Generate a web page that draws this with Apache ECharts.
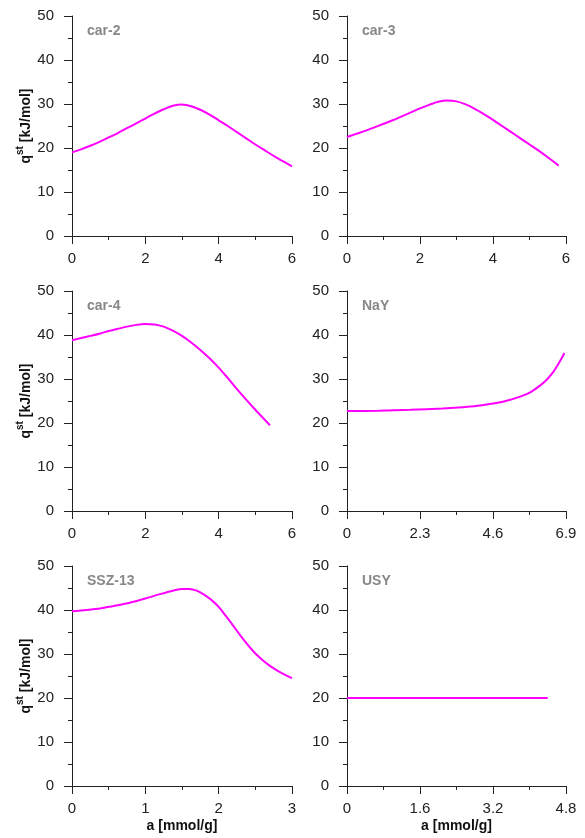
<!DOCTYPE html>
<html>
<head>
<meta charset="utf-8">
<script src="https://cdn.jsdelivr.net/npm/echarts@6/dist/echarts.min.js"></script>
<style>
html,body{margin:0;padding:0;background:#fff;}
#chart{width:585px;height:838px;}
</style>
</head>
<body>
<div id="chart"></div>
<script>
// Panel names
const panelNames = ['car-2', 'car-3', 'car-4', 'NaY', 'SSZ-13', 'USY'];
// x-axis ranges [max, interval]
const xMax = [6, 6, 6, 6.9, 3, 4.8];
const xInterval = [2, 2, 2, 2.3, 1, 1.6];
// Series data [a, qst]
const car2 = [[0,19.0],[0.25,19.7],[0.5,20.5],[0.75,21.4],[1,22.4],[1.25,23.4],[1.5,24.5],[1.75,25.6],[2,26.7],[2.25,27.8],[2.5,28.8],[2.75,29.6],[3,29.9],[3.25,29.5],[3.5,28.7],[3.75,27.6],[4,26.3],[4.25,25.0],[4.5,23.6],[4.75,22.2],[5,20.8],[5.25,19.5],[5.5,18.2],[5.75,17.0],[6,15.8]];
const car3 = [[0,22.5],[0.25,23.2],[0.5,23.9],[0.75,24.7],[1,25.5],[1.25,26.3],[1.5,27.2],[1.75,28.1],[2,29.0],[2.25,29.8],[2.5,30.5],[2.75,30.8],[3,30.6],[3.25,29.9],[3.5,28.9],[3.75,27.7],[4,26.4],[4.25,25.0],[4.5,23.6],[4.75,22.2],[5,20.8],[5.25,19.4],[5.5,17.9],[5.8,16.0]];
const car4 = [[0,38.8],[0.25,39.3],[0.5,39.8],[0.75,40.3],[1,40.9],[1.25,41.4],[1.5,41.9],[1.75,42.3],[2,42.5],[2.25,42.4],[2.5,41.9],[2.75,41.0],[3,39.8],[3.25,38.3],[3.5,36.6],[3.75,34.7],[4,32.6],[4.25,30.2],[4.5,27.7],[4.75,25.3],[5,23.0],[5.25,20.8],[5.4,19.5]];
const nay = [[0,22.7],[1,22.8],[2,23.0],[3,23.3],[3.5,23.5],[4,23.8],[4.5,24.3],[5,25.0],[5.5,26.1],[5.8,27.1],[6.1,28.6],[6.3,29.9],[6.5,31.6],[6.7,33.9],[6.85,35.9]];
const ssz13 = [[0,39.7],[0.2,40.0],[0.4,40.4],[0.6,41.0],[0.8,41.7],[1,42.6],[1.2,43.6],[1.4,44.5],[1.5,44.8],[1.6,44.8],[1.7,44.4],[1.8,43.5],[1.9,42.3],[2,40.7],[2.1,38.6],[2.2,36.4],[2.3,34.1],[2.4,32.0],[2.5,30.1],[2.6,28.6],[2.7,27.3],[2.8,26.2],[2.9,25.3],[3,24.5]];
const usy = [[0,20.0],[1,20.0],[2,20.0],[3,20.0],[4,20.0],[4.4,20.0]];
const allData = [car2, car3, car4, nay, ssz13, usy];
const yMax = 50, yInterval = 10;

const FONT = 'Arial, "Liberation Sans", sans-serif';
const lefts = [72, 347];
const widths = [220, 219];
const tops = [16, 291, 566];

const grids = [], xAxes = [], yAxes = [], series = [], titles = [];
for (let i = 0; i < 6; i++) {
  const col = i % 2, row = Math.floor(i / 2);
  grids.push({left: lefts[col], top: tops[row], width: widths[col], height: 220, containLabel: false});
  const axisCommon = {
    axisLine: {show: true, lineStyle: {color: '#222', width: 1}},
    axisTick: {show: true, inside: false, length: 8, lineStyle: {color: '#222'}},
    minorTick: {show: true, splitNumber: 2, length: 4, lineStyle: {color: '#222'}},
    splitLine: {show: false},
    minorSplitLine: {show: false}
  };
  xAxes.push(Object.assign({
    type: 'value', gridIndex: i, min: 0, max: xMax[i], interval: xInterval[i],
    axisLabel: {fontSize: 15, color: '#222', fontFamily: FONT, margin: 15, showMaxLabel: true},
    name: row === 2 ? 'a [mmol/g]' : '',
    nameLocation: 'middle', nameGap: 33,
    nameTextStyle: {fontSize: 14, fontWeight: 'bold', color: '#111', fontFamily: FONT}
  }, axisCommon));
  yAxes.push(Object.assign({
    type: 'value', gridIndex: i, min: 0, max: yMax, interval: yInterval,
    axisLabel: {fontSize: 15, color: '#222', fontFamily: FONT, margin: 18},
    name: col === 0 ? '{b|q}{s|st}{b| [kJ/mol]}' : '',
    nameLocation: 'middle', nameGap: 37,
    nameTextStyle: {
      fontFamily: FONT,
      rich: {
        b: {fontSize: 14, fontWeight: 'bold', color: '#111', fontFamily: FONT, verticalAlign: 'bottom', lineHeight: 18},
        s: {fontSize: 10, fontWeight: 'bold', color: '#111', fontFamily: FONT, verticalAlign: 'top', lineHeight: 18}
      }
    }
  }, axisCommon));
  series.push({
    type: 'line', xAxisIndex: i, yAxisIndex: i, data: allData[i],
    smooth: 0.3, showSymbol: false, symbol: 'none',
    lineStyle: {color: '#ff00ff', width: 2}, itemStyle: {color: '#ff00ff'}
  });
  titles.push({
    text: panelNames[i], left: lefts[col] + 10, top: tops[row] + 3,
    textStyle: {fontSize: 14, fontWeight: 'bold', color: '#888', fontFamily: FONT}
  });
}

const chart = echarts.init(document.getElementById('chart'), null, {renderer: 'canvas'});
chart.setOption({
  animation: false,
  backgroundColor: '#fff',
  title: titles,
  grid: grids,
  xAxis: xAxes,
  yAxis: yAxes,
  series: series
});
</script>
</body>
</html>
